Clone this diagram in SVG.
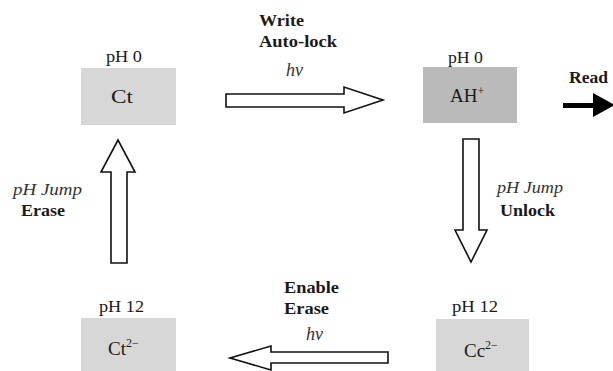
<svg xmlns="http://www.w3.org/2000/svg" width="613" height="371" viewBox="0 0 613 371">
<style>
text{font-family:"Liberation Serif","Times New Roman",serif;font-size:16px;fill:#1a1a1a}
.b{font-weight:bold}
.i{font-style:italic;fill:#333}
.hv{font-size:18px}
.lbl{font-size:19px}
.box{stroke:none}
.arr{fill:#fff;stroke:#111;stroke-width:1.6;stroke-linejoin:miter}
.sup{font-size:12px}
</style>
<rect width="613" height="371" fill="#fff"/>
<g id="node-ct">
<text x="106" y="62" textLength="36" lengthAdjust="spacingAndGlyphs">pH 0</text>
<rect class="box" x="81" y="68" width="95" height="57" fill="#d7d7d7"/>
<text class="lbl" x="111" y="103" textLength="22" lengthAdjust="spacingAndGlyphs">Ct</text>
</g>
<g id="node-ah">
<text x="448" y="63" textLength="35" lengthAdjust="spacingAndGlyphs">pH 0</text>
<rect class="box" x="423" y="67" width="94" height="56" fill="#bababa"/>
<text class="lbl" x="450" y="102">AH<tspan class="sup" dy="-7">+</tspan></text>
</g>
<g id="node-ct2">
<text x="99" y="312" textLength="45" lengthAdjust="spacingAndGlyphs">pH 12</text>
<rect class="box" x="81" y="318" width="95" height="53" fill="#d7d7d7"/>
<text class="lbl" x="108" y="355">Ct<tspan class="sup" dy="-8">2−</tspan></text>
</g>
<g id="node-cc2">
<text x="452" y="312" textLength="46" lengthAdjust="spacingAndGlyphs">pH 12</text>
<rect class="box" x="436" y="319" width="93" height="52" fill="#d7d7d7"/>
<text class="lbl" x="464" y="357">Cc<tspan class="sup" dy="-8">2−</tspan></text>
</g>
<g id="connectors">
<polygon class="arr" points="226,94 344,94 344,87 383,100 344,113 344,107 226,107"/>
<polygon class="arr" points="111,263 111,172 101,172 118,140 135,172 127,172 127,263"/>
<polygon class="arr" points="463,139 479,139 479,230 487,230 471,262 455,230 463,230"/>
<polygon class="arr" points="388,352 271,352 271,346 230,358 271,370 271,363 388,363"/>
<polygon fill="#000" points="563,103 593,103 593,93 615,105 593,117 593,108 563,108"/>
</g>
<g id="labels">
<text class="b" x="259" y="26" textLength="45" lengthAdjust="spacingAndGlyphs">Write</text>
<text class="b" x="259" y="47" textLength="78" lengthAdjust="spacingAndGlyphs">Auto-lock</text>
<text class="i hv" x="286" y="76">hv</text>
<text class="b" x="569" y="83" textLength="39" lengthAdjust="spacingAndGlyphs">Read</text>
<text class="i" x="13" y="195" textLength="69" lengthAdjust="spacingAndGlyphs">pH Jump</text>
<text class="b" x="21" y="216" textLength="44" lengthAdjust="spacingAndGlyphs">Erase</text>
<text class="i" x="497" y="193" textLength="66" lengthAdjust="spacingAndGlyphs">pH Jump</text>
<text class="b" x="500" y="216" textLength="55" lengthAdjust="spacingAndGlyphs">Unlock</text>
<text class="b" x="284" y="293" textLength="55" lengthAdjust="spacingAndGlyphs">Enable</text>
<text class="b" x="284" y="314" textLength="45" lengthAdjust="spacingAndGlyphs">Erase</text>
<text class="i hv" x="306" y="340">hv</text>
</g>
</svg>
